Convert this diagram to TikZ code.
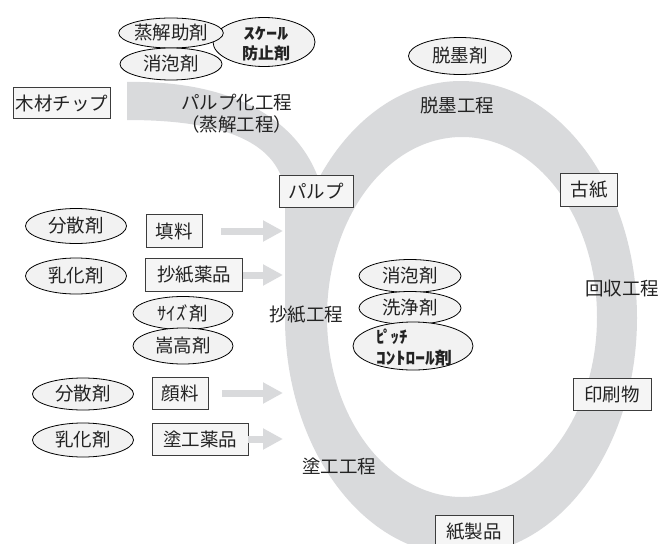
\documentclass[tikz,border=0pt]{standalone}
\usepackage{fontspec}
\usepackage{graphicx}
\setmainfont{Noto Sans CJK JP}
\usetikzlibrary{shapes.geometric,arrows.meta}
\definecolor{ringgray}{RGB}{217,218,220}
\definecolor{ellfill}{RGB}{242,242,242}
\definecolor{boxfill}{RGB}{245,245,245}
\definecolor{boxline}{RGB}{60,60,60}
\definecolor{txt}{RGB}{35,35,35}
\begin{document}
\begin{tikzpicture}[x=1pt,y=-1pt,
  font=\fontsize{18.5}{22}\selectfont, text=txt,
  chem/.style={ellipse, draw=black, line width=0.8pt, fill=ellfill, inner sep=0pt},
  box/.style={rectangle, draw=boxline, line width=0.9pt, fill=boxfill, inner sep=0pt},
  flow/.style={draw=ringgray, line width=7pt, -{Triangle[length=20pt,width=20pt]}},
  lbl/.style={inner sep=0pt},
  boldlbl/.style={inner sep=0pt, font=\bfseries\fontsize{16}{20}\selectfont}]
\useasboundingbox (0,0) rectangle (662,544);
\begin{scope}
  \clip (0,0) rectangle (662,544);
  % ring
  \fill[ringgray, even odd rule] (461,318) ellipse [x radius=176, y radius=237]
                                 (462,317) ellipse [x radius=135, y radius=180];
  % pulping band
  \fill[ringgray] (127,82) .. controls (240,80) and (305,125) .. (322,190)
      -- (315,318) -- (285,318) -- (285,190)
      .. controls (278,150) and (240,120) .. (127,120) -- cycle;
\end{scope}

\coordinate (ringL) at (283,0);

% top-left group
\node[chem, minimum width=102, minimum height=49] (scale) at (264,42) {};
\node[boldlbl, align=center] (scaletxt) at (266,44) {\scalebox{1.4}[1]{ｽｹｰﾙ}\\防止剤};
\node[chem, minimum width=102, minimum height=30] (jokai) at (171,33) {蒸解助剤};
\node[chem, minimum width=102, minimum height=32] (shoho1) at (171,64) {消泡剤};
\node[box, minimum width=97, minimum height=31] (chip) at (62,103) {木材チップ};
\node[lbl, anchor=west, align=left] (pulpproc) at (181,114) {パルプ化工程\\（蒸解工程）};

% deinking
\node[chem, minimum width=103, minimum height=37] (datsuboku) at (460,56) {脱墨剤};
\node[lbl] (datsubokuproc) at (457,105) {脱墨工程};

% ring boxes
\node[box, minimum width=74, minimum height=32] (pulp) at (316,191) {パルプ};
\node[box, minimum width=57, minimum height=33] (koshi) at (589,190) {古紙};
\node[lbl] (kaishu) at (622,288) {回収工程};
\node[box, minimum width=78, minimum height=32] (insatsu) at (612,394) {印刷物};
\node[box, minimum width=78, minimum height=34] (seihin) at (474,532) {紙製品};
\node[lbl] (shoshiproc) at (306,315) {抄紙工程};
\node[lbl] (tokoproc) at (339,466) {塗工工程};

% papermaking inputs
\node[chem, minimum width=101, minimum height=35] (bunsan1) at (76,226) {分散剤};
\node[chem, minimum width=101, minimum height=36] (nyuka1) at (76,276) {乳化剤};
\node[box, minimum width=56, minimum height=33] (filler) at (174,231) {填料};
\node[box, minimum width=97, minimum height=33] (shoshiyaku) at (194,275) {抄紙薬品};
\node[chem, minimum width=100, minimum height=33] (size) at (183,313) {ｻｲｽ\kern-0.15em ﾞ\kern-0.1em 剤};
\node[chem, minimum width=100, minimum height=36] (kasadaka) at (183,346) {嵩高剤};

% coating inputs
\node[chem, minimum width=101, minimum height=32] (bunsan2) at (83,394) {分散剤};
\node[chem, minimum width=101, minimum height=34] (nyuka2) at (83,440) {乳化剤};
\node[box, minimum width=56, minimum height=32] (ganryo) at (180,393) {顔料};
\node[box, minimum width=96, minimum height=32] (tokoyaku) at (200,439) {塗工薬品};

% centre chemicals
\node[chem, minimum width=102, minimum height=33] (shoho2) at (410,276) {消泡剤};
\node[chem, minimum width=102, minimum height=33] (senjo) at (410,308) {洗浄剤};
\node[chem, minimum width=120, minimum height=48] (pitch) at (413,346) {};
\node[boldlbl, anchor=west, align=left, font=\bfseries\fontsize{17}{21}\selectfont] (pitchtxt) at (376,348) {ﾋ\kern-0.1em ﾟ\kern-0.05em ｯﾁ\\\scalebox{1.15}[1]{ｺﾝﾄﾛｰﾙ}剤};

% arrows
\draw[flow, shorten <=19pt] (filler.east) -- (filler.east -| ringL);
\draw[flow] (shoshiyaku.east) -- (shoshiyaku.east -| ringL);
\draw[flow, shorten <=14pt] (ganryo.east) -- (ganryo.east -| ringL);
\draw[flow] (tokoyaku.east) -- (tokoyaku.east -| ringL);
\end{tikzpicture}
\end{document}
